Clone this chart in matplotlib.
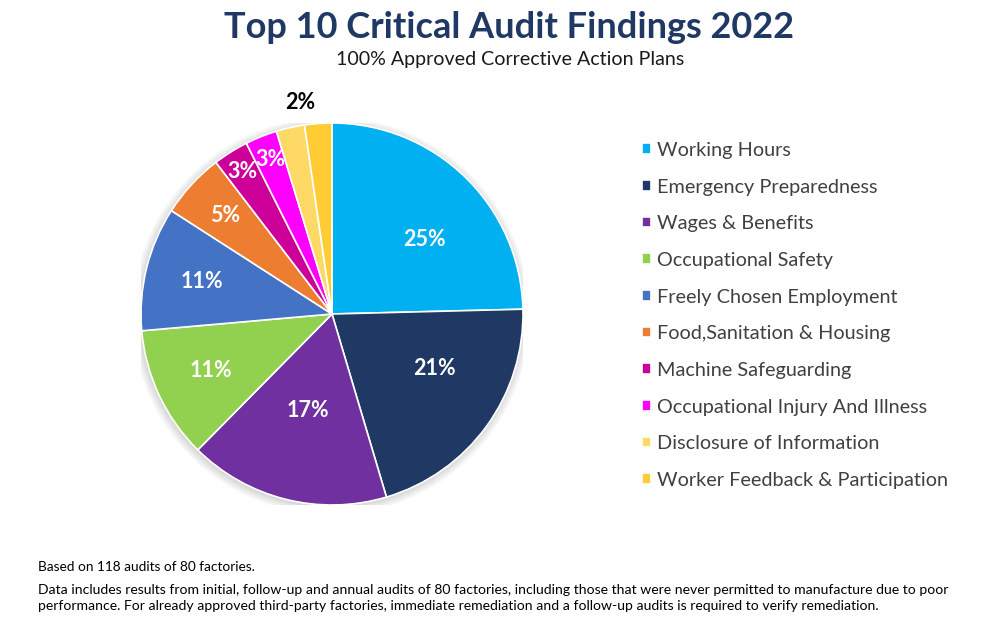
import matplotlib.pyplot as plt
from matplotlib.patches import Circle
import numpy as np

plt.rcParams['font.family'] = ['Lato', 'DejaVu Sans']

categories = ["Working Hours", "Emergency Preparedness", "Wages & Benefits",
              "Occupational Safety", "Freely Chosen Employment",
              "Food,Sanitation & Housing", "Machine Safeguarding",
              "Occupational Injury And Illness", "Disclosure of Information",
              "Worker Feedback & Participation"]
shares = [24.6, 20.8, 17.0, 11.2, 10.5, 5.5, 3.0, 2.7, 2.4, 2.3]
pct_labels = ["25%", "21%", "17%", "11%", "11%", "5%", "3%", "3%", "2%", ""]
colors = ["#00B0F0", "#1F3864", "#7030A0", "#92D050", "#4472C4",
          "#ED7D31", "#CC0099", "#FF00FF", "#FFD966", "#FFCD33"]

# label placement (radius, angle nudge in degrees) - styling only
label_r = [0.62, 0.61, 0.52, 0.70, 0.70, 0.76, 0.88, 0.87, 1.12, 0.0]
label_nudge = [-7, 8, 0, 0, 0, 0, 0, 0, -4, 0]

fig = plt.figure(figsize=(10.07, 6.27), dpi=100)
W, H = 1007, 627
cx, cy, r = 332, 314, 191
ax = fig.add_axes([(cx - r) / W, (H - cy - r) / H, 2 * r / W, 2 * r / H])

# soft shadow
for i in range(8):
    ax.add_patch(Circle((-0.005, -0.01), 1.0 + 0.006 * i, color="black",
                        alpha=0.018, lw=0, zorder=0))

wedges, _ = ax.pie(shares, colors=colors, startangle=90, counterclock=False,
                   wedgeprops=dict(edgecolor="white", linewidth=1.2))

for w, lab, rr, nd in zip(wedges, pct_labels, label_r, label_nudge):
    if not lab:
        continue
    ang = np.deg2rad((w.theta1 + w.theta2) / 2 + nd)
    col = "black" if rr > 1 else "white"
    ax.text(rr * np.cos(ang), rr * np.sin(ang), lab, ha="center", va="center",
            fontsize=15.5, fontweight="bold", color=col, clip_on=False)

ax.set_xlim(-1, 1)
ax.set_ylim(-1, 1)
ax.set_aspect("equal")
ax.axis("off")

fig.text(509 / W, 1 - 28 / H, "Top 10 Critical Audit Findings 2022", ha="center",
         va="center", fontsize=26, fontweight="bold", color="#1F3864")
fig.text(510 / W, 1 - 60 / H, "100% Approved Corrective Action Plans", ha="center",
         va="center", fontsize=14.1, color="#1a1a1a")

fig.legend(wedges, categories, loc="upper left", bbox_to_anchor=(624 / W, 1 - 124 / H),
           frameon=False, fontsize=14.3, labelcolor="#404040", handlelength=0.45,
           handleheight=0.45, handletextpad=0.32, labelspacing=0.99)

fig.text(38 / W, 1 - 567 / H, "Based on 118 audits of 80 factories.", ha="left",
         va="center", fontsize=9.8, color="black")
fig.text(38 / W, 1 - 598 / H,
         "Data includes results from initial, follow-up and annual audits of 80 factories, "
         "including those that were never permitted to manufacture due to poor\n"
         "performance. For already approved third-party factories, immediate remediation "
         "and a follow-up audits is required to verify remediation.",
         ha="left", va="center", fontsize=10.1, color="black", linespacing=1.3)

fig.savefig("out.png", dpi=100)
